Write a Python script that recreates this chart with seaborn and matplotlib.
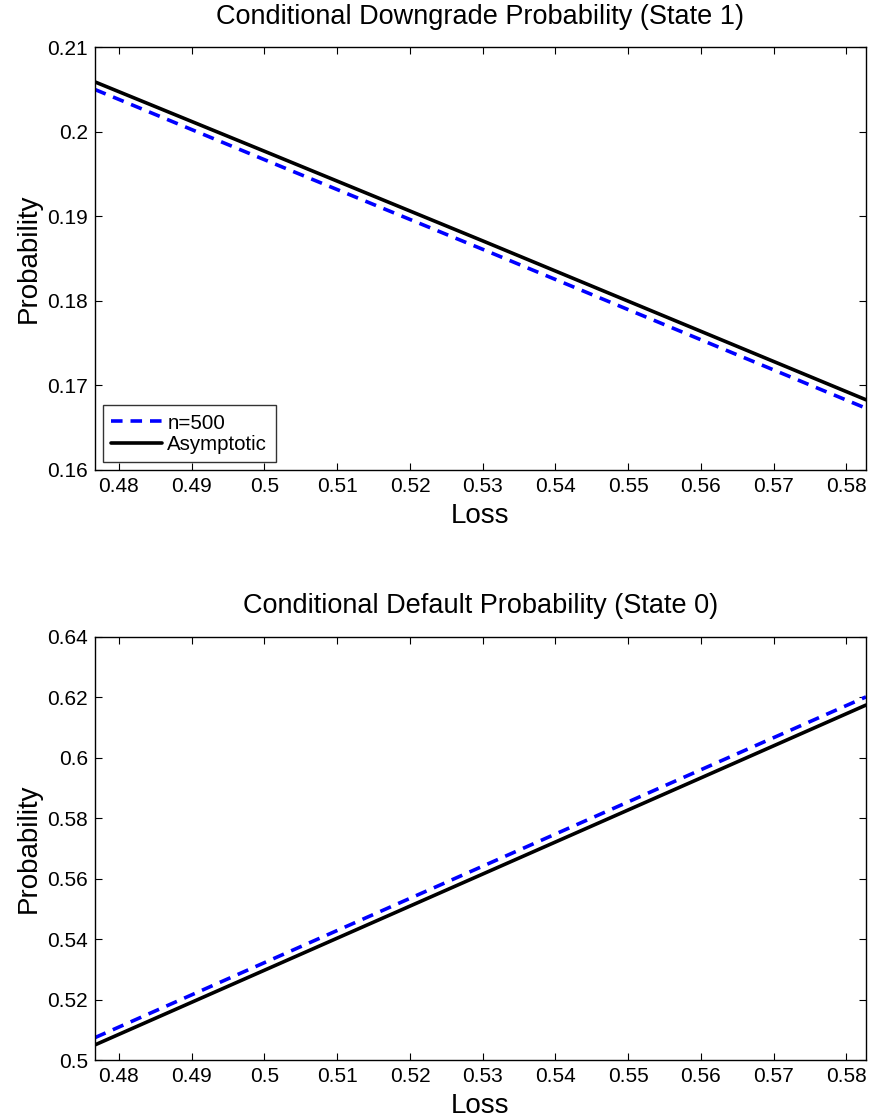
import matplotlib
matplotlib.use("Agg")
import matplotlib.pyplot as plt
import seaborn as sns
import pandas as pd

loss = [0.4767, 0.50, 0.53, 0.56, 0.5827]
down_n500 = [0.2050, 0.1967, 0.1861, 0.1754, 0.1673]
down_asym = [0.2059, 0.1977, 0.1871, 0.1764, 0.1683]
def_n500 = [0.5074, 0.5322, 0.5641, 0.5960, 0.6201]
def_asym = [0.5050, 0.5297, 0.5615, 0.5933, 0.6174]

xticks = [0.48, 0.49, 0.50, 0.51, 0.52, 0.53, 0.54, 0.55, 0.56, 0.57, 0.58]
xticklabels = ["0.48", "0.49", "0.5", "0.51", "0.52", "0.53", "0.54", "0.55", "0.56", "0.57", "0.58"]
yticks_top = [0.16, 0.17, 0.18, 0.19, 0.20, 0.21]
yticklabels_top = ["0.16", "0.17", "0.18", "0.19", "0.2", "0.21"]
yticks_bot = [0.50, 0.52, 0.54, 0.56, 0.58, 0.60, 0.62, 0.64]
yticklabels_bot = ["0.5", "0.52", "0.54", "0.56", "0.58", "0.6", "0.62", "0.64"]

sns.set_theme(style="white")
plt.rcParams['font.family'] = ['Liberation Sans', 'DejaVu Sans']
plt.rcParams['text.color'] = 'black'
plt.rcParams['axes.labelcolor'] = 'black'
plt.rcParams['xtick.color'] = 'black'
plt.rcParams['ytick.color'] = 'black'

fig = plt.figure(figsize=(8.73, 11.20), dpi=100)
ax1 = fig.add_axes([0.1088, 0.5804, 0.992 - 0.1088, 0.9578 - 0.5804])
ax2 = fig.add_axes([0.1088, 0.05357, 0.992 - 0.1088, 0.4315 - 0.05357])

def style(ax, yticks, ylabels, ylim, title):
    ax.set_xlim(0.4767, 0.5827)
    ax.set_ylim(*ylim)
    ax.set_xticks(xticks)
    ax.set_xticklabels(xticklabels)
    ax.set_yticks(yticks)
    ax.set_yticklabels(ylabels)
    ax.tick_params(axis='both', which='both', direction='in', length=5, width=0.8,
                   colors='black', labelcolor='black', labelsize=15, top=True, right=True,
                   bottom=True, left=True, pad=5)
    for s in ax.spines.values():
        s.set_visible(True)
        s.set_color('black')
        s.set_linewidth(1.0)
    ax.set_xlabel("Loss", fontsize=20, labelpad=5, color='black')
    ax.set_ylabel("Probability", fontsize=20, labelpad=4, color='black')
    ax.set_title(title, fontsize=19.5, pad=17, color='black')
    ax.grid(False)

df1 = pd.DataFrame({"Loss": loss, "n500": down_n500, "asym": down_asym})
df2 = pd.DataFrame({"Loss": loss, "n500": def_n500, "asym": def_asym})

for ax, df in [(ax1, df1), (ax2, df2)]:
    sns.lineplot(data=df, x="Loss", y="n500", ax=ax, color="#0000ff", linewidth=2.6,
                 label="n=500")
    ax.lines[-1].set_linestyle((0, (3.2, 2.2)))
    sns.lineplot(data=df, x="Loss", y="asym", ax=ax, color="black", linewidth=2.6,
                 label="Asymptotic")

style(ax1, yticks_top, yticklabels_top, (0.16, 0.21), "Conditional Downgrade Probability (State 1)")
style(ax2, yticks_bot, yticklabels_bot, (0.50, 0.64), "Conditional Default Probability (State 0)")

leg = ax1.legend(loc="lower left", bbox_to_anchor=(0.010, 0.019), fontsize=14.8,
                 frameon=True, fancybox=False, handlelength=2.5, handletextpad=0.25,
                 borderpad=0.4, labelspacing=0.1, borderaxespad=0)
leg.get_frame().set_edgecolor('black')
leg.get_frame().set_linewidth(1.0)
for t in leg.get_texts():
    t.set_color('black')
ax2.get_legend().remove()

fig.savefig("out.png", dpi=100)
